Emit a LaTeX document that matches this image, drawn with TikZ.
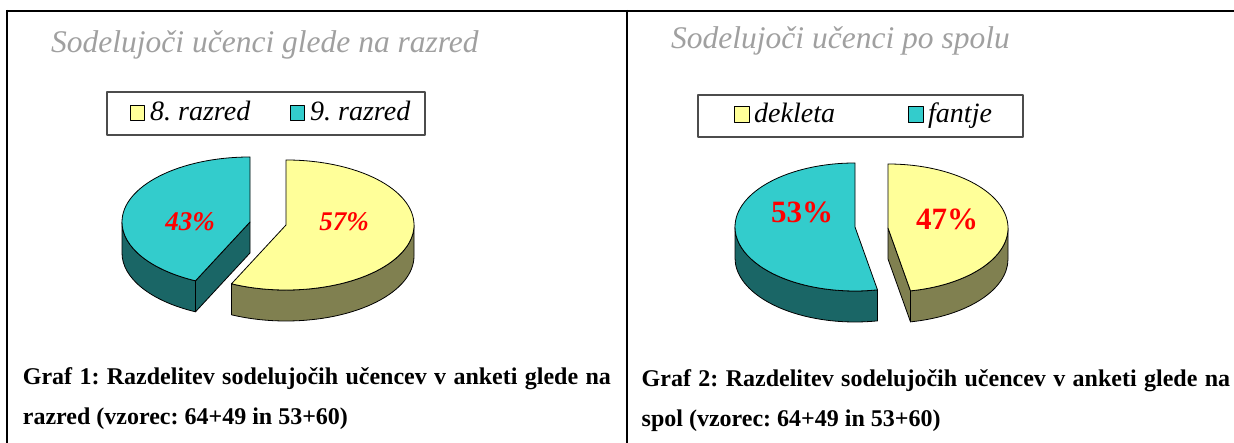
\documentclass[tikz,border=0pt]{standalone}
\usepackage{fontspec}
\setmainfont{Liberation Serif}
\definecolor{pieyellow}{HTML}{FFFF99}
\definecolor{pieyellowside}{HTML}{808050}
\definecolor{piecyan}{HTML}{33CCCC}
\definecolor{piecyanside}{HTML}{1A6666}
\definecolor{titlegray}{HTML}{A0A0A0}
\definecolor{labelred}{HTML}{FF0000}
\begin{document}
\begin{tikzpicture}[x=1pt,y=1pt,line join=round,
    edge/.style={draw=black,line width=0.8pt},
    legendbox/.style={draw=black!70,line width=1.5pt},
    swatch/.style={draw=black,line width=1pt},
    charttitle/.style={font=\fontsize{31.5}{36}\selectfont\itshape\frenchspacing,text=titlegray,anchor=base west,inner sep=0pt},
    legendtext/.style={font=\fontsize{28}{32}\selectfont\itshape\frenchspacing,anchor=base west,inner sep=0pt},
    pctslab/.style={font=\fontsize{27}{30}\selectfont\bfseries\itshape,text=labelred,inner sep=0pt},
    pctserif/.style={font=\fontsize{31}{34}\selectfont\bfseries,text=labelred,inner sep=0pt},
    caption/.style={font=\fontsize{24}{28}\selectfont\bfseries\frenchspacing,anchor=base west,inner sep=0pt}]
    \useasboundingbox (0,0) rectangle (1234,443);
    % table rules
    \draw[line width=2pt] (7,432) -- (1234,432)
    (7,433) -- (7,0) (627,433) -- (627,0);
    
    % Graf 1
    \node[charttitle] (title1) at (51,390) {Sodelujoči učenci glede na razred};
    \draw[legendbox] (107,308) rectangle (425,351);
    \foreach \x/\c/\t/\n in {130/pieyellow/8. razred/leg1a,290/piecyan/9. razred/leg1b}
    {
        \filldraw[swatch,fill=\c] (\x,322) rectangle ++(14,15);
        \node[legendtext] (\n) at (\x+20,322) {\t};
    }
    \path 
    (250,221) coordinate (CA)
    (286,218) coordinate (YA)
    (CA) ++(90:128 and 65) coordinate (CT)
    (CA) ++(180:128 and 65) coordinate (CL)
    (CA) ++(244.8:128 and 65) coordinate (CC)
    (YA) ++(244.8:128 and 65) coordinate (YC)
    ;
    \filldraw[edge,fill=piecyanside] (CL) arc[start angle=180,end angle=244.8,x radius=128,y radius=65]
    -- ++(0,-31) arc[start angle=244.8,end angle=180,x radius=128,y radius=65] -- cycle;
    \filldraw[edge,fill=piecyanside] (CA) -- (CC) -- ++(0,-31) -- ([yshift=-31]CA) -- cycle;
    \filldraw[edge,fill=piecyan] (CA) -- (CT) arc[start angle=90,end angle=244.8,x radius=128,y radius=65] -- cycle;
    \filldraw[edge,fill=pieyellowside] (YC) arc[start angle=244.8,end angle=360,x radius=128,y radius=65]
    -- ++(0,-31) arc[start angle=360,end angle=244.8,x radius=128,y radius=65] -- cycle;
    \filldraw[edge,fill=pieyellow] (YA) -- (YC) arc[start angle=244.8,end angle=450,x radius=128,y radius=65] -- cycle;
    \node[pctslab] (pct1a) at (190,221) {43\%};
    \node[pctslab] (pct1b) at (344,221) {57\%};
    \node[caption] (cap1a) at (22.7,58) {\makebox[588pt][s]{Graf 1: Razdelitev sodelujočih učencev v anketi glede na}};
    \node[caption] (cap1b) at (22.7,18) {razred (vzorec: 64+49 in 53+60)};
    
    % Graf 2
    \node[charttitle] (title2) at (671,394) {Sodelujoči učenci po spolu};
    \draw[legendbox] (698,306) rectangle (1023,348);
    \foreach \x/\c/\t/\n in {734/pieyellow/dekleta/leg2a,908/piecyan/fantje/leg2b}
    {
        \filldraw[swatch,fill=\c] (\x,320) rectangle ++(15,16);
        \node[legendtext] (\n) at (\x+20,320) {\t};
    }
    \path 
    (855,216) coordinate (CB)
    (888,215) coordinate (YB)
    (CB) ++(90:120 and 64) coordinate (CBT)
    (CB) ++(180:120 and 64) coordinate (CBL)
    (YB) ++(280.8:120 and 64) coordinate (YBC)
    ;
    \filldraw[edge,fill=piecyanside] (CBL) arc[start angle=180,end angle=280.8,x radius=120,y radius=64]
    -- ++(0,-31) arc[start angle=280.8,end angle=180,x radius=120,y radius=64] -- cycle;
    \filldraw[edge,fill=piecyan] (CB) -- (CBT) arc[start angle=90,end angle=280.8,x radius=120,y radius=64] -- cycle;
    \filldraw[edge,fill=pieyellowside] (YB) -- (YBC) -- ++(0,-31) -- ([yshift=-31]YB) -- cycle;
    \filldraw[edge,fill=pieyellowside] (YBC) arc[start angle=280.8,end angle=360,x radius=120,y radius=64]
    -- ++(0,-31) arc[start angle=360,end angle=280.8,x radius=120,y radius=64] -- cycle;
    \filldraw[edge,fill=pieyellow] (YB) -- (YBC) arc[start angle=280.8,end angle=450,x radius=120,y radius=64] -- cycle;
    \node[pctserif] (pct2a) at (802,231) {53\%};
    \node[pctserif] (pct2b) at (947,224) {47\%};
    \node[caption] (cap2a) at (641.5,56) {\makebox[588.5pt][s]{Graf 2: Razdelitev sodelujočih učencev v anketi glede na}};
    \node[caption] (cap2b) at (641.5,16) {spol (vzorec: 64+49 in 53+60)};
\end{tikzpicture}
\end{document}
